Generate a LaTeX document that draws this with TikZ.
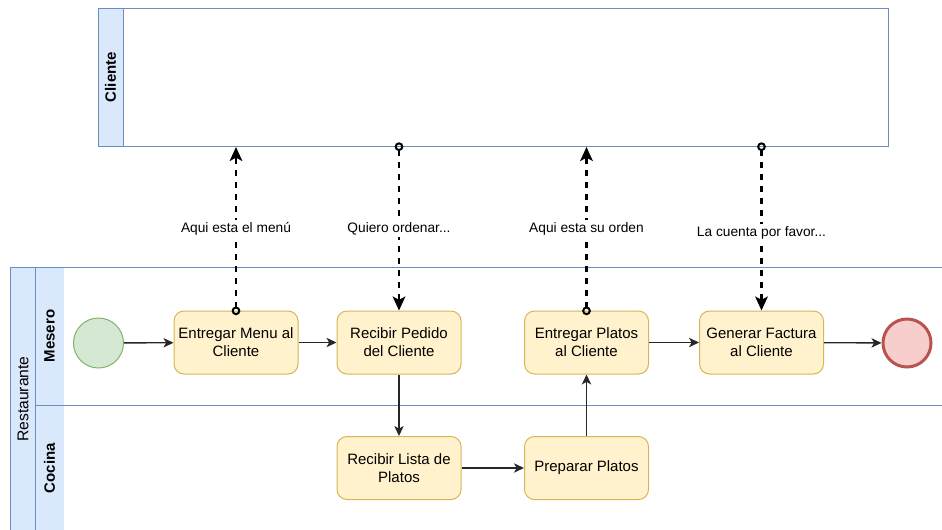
\documentclass[tikz,border=0pt]{standalone}
\usepackage{fontspec}
\setmainfont{Liberation Sans}
\usetikzlibrary{arrows.meta}
\definecolor{poolline}{HTML}{6C8EBF}
\definecolor{poolfill}{HTML}{DAE8FC}
\definecolor{taskfill}{HTML}{FFF2CC}
\definecolor{taskline}{HTML}{D6B656}
\definecolor{startfill}{HTML}{D5E8D4}
\definecolor{startline}{HTML}{82B366}
\definecolor{endfill}{HTML}{F8CECC}
\definecolor{endline}{HTML}{B85450}
\begin{document}
\begin{tikzpicture}[x=0.75pt,y=-0.75pt,
  poolborder/.style={draw=poolline,line width=0.75pt},
  poolhead/.style={rotate=90,font=\fontsize{11.25}{13.5}\selectfont\bfseries},
  task/.style={draw=taskline,fill=taskfill,rounded corners=7.5pt,
    minimum width=93pt,minimum height=47.25pt,align=center,inner sep=0pt,
    line width=0.75pt,font=\fontsize{11.25}{13.5}\selectfont},
  startev/.style={circle,draw=startline,fill=startfill,minimum size=37.5pt,
    inner sep=0pt,line width=0.75pt},
  endev/.style={circle,draw=endline,fill=endfill,minimum size=36pt,
    inner sep=0pt,line width=2.25pt},
  seq/.style={draw=black!85,line width=1pt,
    -{Stealth[length=7.5pt,width=7pt,inset=2pt]}},
  msg/.style={draw=black,line width=1.6pt,dash pattern=on 4.5pt off 4.5pt,
    shorten <=-3.5pt,
    {Circle[open,length=6.5pt,width=6.5pt,line width=1.5pt]}-{Stealth[length=10.5pt,width=9.5pt,inset=2.5pt]}},
  msglabel/.style={midway,fill=white,inner sep=1.5pt,
    font=\fontsize{10.3}{12}\selectfont}]

\useasboundingbox (0,0) rectangle (942,529);
\begin{scope}
\clip (0,0) rectangle (942,529);

% Cliente pool
\node[poolborder,minimum width=592.5pt,minimum height=103.5pt,inner sep=0pt,
  anchor=north west] (cliente) at (98,8) {};
\draw[poolborder,fill=poolfill] (cliente.north west) rectangle ++(25,138);
\node[poolhead] (clientelbl) at (110.5,77) {Cliente};

% Restaurante pool with its two lanes
\fill[poolfill] (10,267) rectangle (64,545);
\draw[poolborder] (960,267) -- (10,267) -- (10,545);
\draw[poolborder] (35,267) -- (35,545);
\draw[poolborder] (35,405) -- (960,405);
\node[rotate=90,font=\fontsize{11.75}{13.5}\selectfont] (restlbl) at (23,399) {Restaurante};
\node[poolhead] (meserolbl) at (49.5,336) {Mesero};
\node[poolhead] (cocinalbl) at (49.5,468) {Cocina};

% Events and tasks
\node[startev] (start) at (98.5,343) {};
\node[task] (menu) at (236,342.5) {Entregar Menu al\\Cliente};
\node[task] (pedido) at (399,342.5) {Recibir Pedido\\del Cliente};
\node[task] (platos) at (586.5,342.5) {Entregar Platos\\al Cliente};
\node[task] (factura) at (761.5,342.5) {Generar Factura\\al Cliente};
\node[endev] (fin) at (907,343) {};
\node[task] (lista) at (399,468) {Recibir Lista de\\Platos};
\node[task] (preparar) at (586.5,468) {Preparar Platos};

% Sequence flows
\draw[seq] (start) -- (menu);
\draw[seq] (menu) -- (pedido);
\draw[seq] (pedido) -- (lista);
\draw[seq] (lista) -- (preparar);
\draw[seq] (preparar) -- (platos);
\draw[seq] (platos) -- (factura);
\draw[seq] (factura) -- (fin);

% Message flows
\draw[msg] (menu.north) -- (menu.north |- cliente.south)
  node[msglabel] {Aqui esta el menú};
\draw[msg] (pedido.north |- cliente.south) -- (pedido.north)
  node[msglabel] {Quiero ordenar...};
\draw[msg] (platos.north) -- (platos.north |- cliente.south)
  node[msglabel] {Aqui esta su orden};
\draw[msg] (factura.north |- cliente.south) -- (factura.north)
  node[msglabel,yshift=-3pt] {La cuenta por favor...};
\end{scope}
\end{tikzpicture}
\end{document}
